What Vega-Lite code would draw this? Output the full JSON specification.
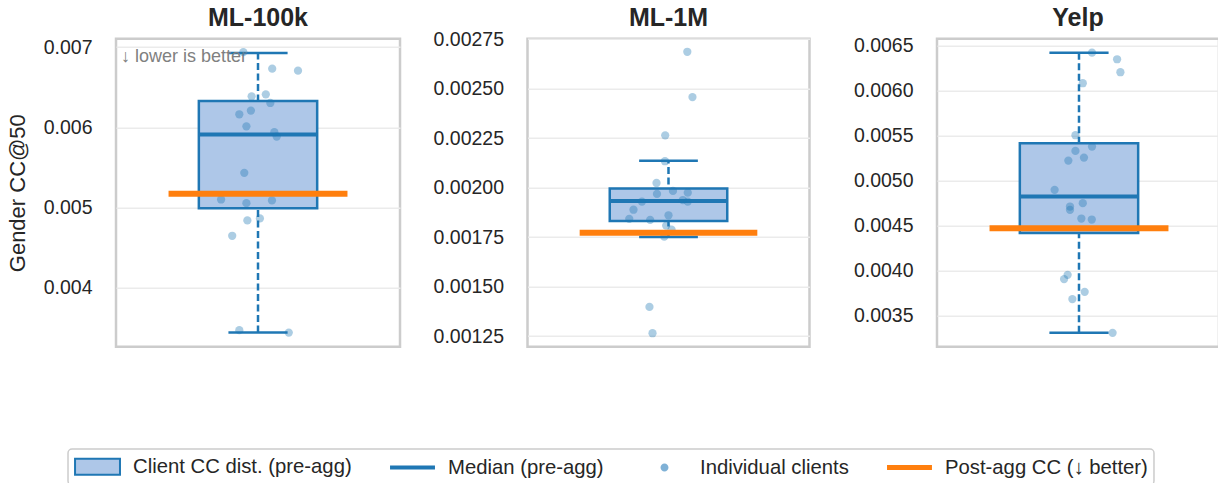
{
  "$schema": "https://vega.github.io/schema/vega-lite/v6.json",
  "padding": {"left": 4, "top": 3.7, "right": 0, "bottom": 0},
  "autosize": {"type": "pad"},
  "spacing": 127.5,
  "bounds": "flush",
  "config": {
    "font": "Liberation Sans",
    "view": {"stroke": "#cccccc", "strokeWidth": 2.5},
    "axis": {"domain": false, "ticks": false, "tickSize": 0, "labelFontSize": 19.5, "labelColor": "#262626", "labelPadding": 24, "gridColor": "#ebebeb", "gridWidth": 1.5, "titleFontSize": 22, "titleFontWeight": "normal", "titleColor": "#262626", "titlePadding": 14},
    "title": {"fontSize": 25, "fontWeight": "bold", "color": "#262626"},
    "legend": {"labelFontSize": 20.3, "labelColor": "#262626", "labelLimit": 0, "symbolSize": 441, "symbolOffset": 12, "symbolStrokeWidth": 2, "symbolOpacity": 1, "strokeColor": "#cccccc", "strokeWidth": 1.5, "cornerRadius": 4, "padding": 6, "columnPadding": 34, "labelOffset": 24, "fillColor": "#ffffff"}
  },
  "datasets": {
    "stats": [
      {"ds": "ML-100k", "q1": 0.00499, "med": 0.005909, "q3": 0.006328, "wlo": 0.003438, "whi": 0.006925, "post": 0.00517},
      {"ds": "ML-1M", "q1": 0.001831, "med": 0.001932, "q3": 0.001995, "wlo": 0.00175, "whi": 0.002135, "post": 0.001772},
      {"ds": "Yelp", "q1": 0.004416, "med": 0.004822, "q3": 0.005414, "wlo": 0.00331, "whi": 0.006418, "post": 0.004471}
    ],
    "points": [
      {"ds": "ML-100k", "v": 0.006938, "j": -0.062},
      {"ds": "ML-100k", "v": 0.006731, "j": 0.060},
      {"ds": "ML-100k", "v": 0.006706, "j": 0.169},
      {"ds": "ML-100k", "v": 0.006386, "j": -0.027},
      {"ds": "ML-100k", "v": 0.006411, "j": 0.033},
      {"ds": "ML-100k", "v": 0.006303, "j": 0.052},
      {"ds": "ML-100k", "v": 0.006162, "j": -0.079},
      {"ds": "ML-100k", "v": 0.006208, "j": -0.030},
      {"ds": "ML-100k", "v": 0.006012, "j": -0.049},
      {"ds": "ML-100k", "v": 0.005938, "j": 0.069},
      {"ds": "ML-100k", "v": 0.005884, "j": 0.079},
      {"ds": "ML-100k", "v": 0.005431, "j": -0.058},
      {"ds": "ML-100k", "v": 0.005099, "j": -0.156},
      {"ds": "ML-100k", "v": 0.005053, "j": -0.049},
      {"ds": "ML-100k", "v": 0.005087, "j": 0.059},
      {"ds": "ML-100k", "v": 0.004838, "j": -0.045},
      {"ds": "ML-100k", "v": 0.004863, "j": 0.008},
      {"ds": "ML-100k", "v": 0.004646, "j": -0.109},
      {"ds": "ML-100k", "v": 0.003468, "j": -0.079},
      {"ds": "ML-100k", "v": 0.003438, "j": 0.130},
      {"ds": "ML-1M", "v": 0.002686, "j": 0.080},
      {"ds": "ML-1M", "v": 0.002457, "j": 0.102},
      {"ds": "ML-1M", "v": 0.002264, "j": -0.014},
      {"ds": "ML-1M", "v": 0.002133, "j": -0.015},
      {"ds": "ML-1M", "v": 0.002023, "j": -0.051},
      {"ds": "ML-1M", "v": 0.001968, "j": -0.049},
      {"ds": "ML-1M", "v": 0.001983, "j": 0.019},
      {"ds": "ML-1M", "v": 0.001974, "j": 0.082},
      {"ds": "ML-1M", "v": 0.001929, "j": -0.113},
      {"ds": "ML-1M", "v": 0.001937, "j": 0.061},
      {"ds": "ML-1M", "v": 0.001929, "j": 0.082},
      {"ds": "ML-1M", "v": 0.001888, "j": -0.149},
      {"ds": "ML-1M", "v": 0.001860, "j": 0.000},
      {"ds": "ML-1M", "v": 0.001842, "j": -0.167},
      {"ds": "ML-1M", "v": 0.001837, "j": -0.078},
      {"ds": "ML-1M", "v": 0.001808, "j": -0.010},
      {"ds": "ML-1M", "v": 0.001787, "j": 0.013},
      {"ds": "ML-1M", "v": 0.001752, "j": -0.018},
      {"ds": "ML-1M", "v": 0.001397, "j": -0.081},
      {"ds": "ML-1M", "v": 0.001264, "j": -0.068},
      {"ds": "Yelp", "v": 0.006418, "j": 0.055},
      {"ds": "Yelp", "v": 0.006345, "j": 0.161},
      {"ds": "Yelp", "v": 0.006201, "j": 0.175},
      {"ds": "Yelp", "v": 0.006079, "j": 0.016},
      {"ds": "Yelp", "v": 0.005502, "j": -0.015},
      {"ds": "Yelp", "v": 0.005376, "j": 0.055},
      {"ds": "Yelp", "v": 0.005328, "j": -0.015},
      {"ds": "Yelp", "v": 0.005221, "j": -0.045},
      {"ds": "Yelp", "v": 0.005254, "j": 0.021},
      {"ds": "Yelp", "v": 0.004896, "j": -0.103},
      {"ds": "Yelp", "v": 0.004748, "j": 0.016},
      {"ds": "Yelp", "v": 0.004711, "j": -0.038},
      {"ds": "Yelp", "v": 0.004674, "j": -0.038},
      {"ds": "Yelp", "v": 0.004578, "j": 0.010},
      {"ds": "Yelp", "v": 0.004567, "j": 0.054},
      {"ds": "Yelp", "v": 0.003953, "j": -0.048},
      {"ds": "Yelp", "v": 0.003906, "j": -0.063},
      {"ds": "Yelp", "v": 0.003765, "j": 0.024},
      {"ds": "Yelp", "v": 0.003684, "j": -0.028},
      {"ds": "Yelp", "v": 0.003310, "j": 0.142}
    ],
    "legend": [
      {"item": "Client CC dist. (pre-agg)"},
      {"item": "Median (pre-agg)"},
      {"item": "Individual clients"},
      {"item": "Post-agg CC (↓ better)"}
    ],
    "note": [{"label": "↓ lower is better"}]
  },
  "hconcat": [
    {
      "width": 284, "height": 308,
      "title": {"text": "ML-100k", "offset": 6.6},
      "layer": [
        {"data": {"name": "stats"}, "transform": [{"filter": "datum.ds === 'ML-100k'"}],
         "mark": {"type": "rule", "color": "#1f77b4", "strokeWidth": 2.5, "strokeDash": [7, 3.5]},
         "encoding": {
           "x": {"datum": 0, "type": "quantitative", "scale": {"domain": [-0.6, 0.6], "nice": false, "zero": false}, "axis": {"values": [0], "labels": false, "title": null, "gridColor": "#d3d3d3", "gridWidth": 2.5}},
           "y": {"field": "wlo", "type": "quantitative", "scale": {"domain": [0.003262, 0.007105], "nice": false, "zero": false}, "axis": {"values": [0.004, 0.005, 0.006, 0.007], "format": ".3f", "title": "Gender CC@50"}},
           "y2": {"field": "whi"}}},
        {"data": {"name": "stats"}, "transform": [{"filter": "datum.ds === 'ML-100k'"}, {"fold": ["wlo", "whi"]}],
         "mark": {"type": "rule", "color": "#1f77b4", "strokeWidth": 2.5},
         "encoding": {
           "x": {"datum": -0.125, "type": "quantitative", "scale": {"domain": [-0.6, 0.6], "nice": false, "zero": false}},
           "x2": {"datum": 0.125},
           "y": {"field": "value", "type": "quantitative", "scale": {"domain": [0.003262, 0.007105], "nice": false, "zero": false}}}},
        {"data": {"name": "stats"}, "transform": [{"filter": "datum.ds === 'ML-100k'"}],
         "mark": {"type": "rect", "fill": "#aec7e8", "stroke": "#1f77b4", "strokeWidth": 2.5},
         "encoding": {
           "x": {"datum": -0.25, "type": "quantitative", "scale": {"domain": [-0.6, 0.6], "nice": false, "zero": false}},
           "x2": {"datum": 0.25},
           "y": {"field": "q1", "type": "quantitative", "scale": {"domain": [0.003262, 0.007105], "nice": false, "zero": false}},
           "y2": {"field": "q3"}}},
        {"data": {"name": "stats"}, "transform": [{"filter": "datum.ds === 'ML-100k'"}],
         "mark": {"type": "rule", "color": "#1f77b4", "strokeWidth": 4},
         "encoding": {
           "x": {"datum": -0.25, "type": "quantitative", "scale": {"domain": [-0.6, 0.6], "nice": false, "zero": false}},
           "x2": {"datum": 0.25},
           "y": {"field": "med", "type": "quantitative", "scale": {"domain": [0.003262, 0.007105], "nice": false, "zero": false}}}},
        {"data": {"name": "note"},
         "mark": {"type": "text", "align": "left", "baseline": "top", "fontSize": 18, "color": "#808080"},
         "encoding": {
           "x": {"datum": -0.579, "type": "quantitative", "scale": {"domain": [-0.6, 0.6], "nice": false, "zero": false}},
           "y": {"datum": 0.00699, "type": "quantitative", "scale": {"domain": [0.003262, 0.007105], "nice": false, "zero": false}},
           "text": {"field": "label"}}},
        {"data": {"name": "points"}, "transform": [{"filter": "datum.ds === 'ML-100k'"}],
         "mark": {"type": "circle", "color": "#1f77b4", "opacity": 0.37, "size": 68},
         "encoding": {
           "x": {"field": "j", "type": "quantitative", "scale": {"domain": [-0.6, 0.6], "nice": false, "zero": false}},
           "y": {"field": "v", "type": "quantitative", "scale": {"domain": [0.003262, 0.007105], "nice": false, "zero": false}}}},
        {"data": {"name": "stats"}, "transform": [{"filter": "datum.ds === 'ML-100k'"}],
         "mark": {"type": "rule", "color": "#ff7f0e", "strokeWidth": 6},
         "encoding": {
           "x": {"datum": -0.378, "type": "quantitative", "scale": {"domain": [-0.6, 0.6], "nice": false, "zero": false}},
           "x2": {"datum": 0.378},
           "y": {"field": "post", "type": "quantitative", "scale": {"domain": [0.003262, 0.007105], "nice": false, "zero": false}}}},
        {"data": {"name": "legend"},
         "mark": {"type": "point", "filled": true, "opacity": 0},
         "encoding": {
           "fill": {"field": "item", "type": "nominal", "scale": {"domain": ["Client CC dist. (pre-agg)", "Median (pre-agg)", "Individual clients", "Post-agg CC (↓ better)"], "range": ["#aec7e8", "#1f77b4", "#7fb1d6", "#ff7f0e"]}, "legend": {"orient": "none", "legendX": -48, "legendY": 410.3, "direction": "horizontal", "columns": 4, "title": null}},
           "stroke": {"field": "item", "type": "nominal", "scale": {"domain": ["Client CC dist. (pre-agg)", "Median (pre-agg)", "Individual clients", "Post-agg CC (↓ better)"], "range": ["#1f77b4", "transparent", "transparent", "transparent"]}, "legend": {"orient": "none", "legendX": -48, "legendY": 410.3, "direction": "horizontal", "columns": 4, "title": null}},
           "shape": {"field": "item", "type": "nominal", "scale": {"domain": ["Client CC dist. (pre-agg)", "Median (pre-agg)", "Individual clients", "Post-agg CC (↓ better)"], "range": ["M-2.14,-0.76H2.14V0.76H-2.14Z", "M-2.14,-0.19H2.14V0.19H-2.14Z", "M-2.14,0H2.14M-0.38,0A0.38,0.38 0 1,0 0.38,0A0.38,0.38 0 1,0 -0.38,0Z", "M-2.14,-0.24H2.14V0.24H-2.14Z"]}, "legend": {"orient": "none", "legendX": -48, "legendY": 410.3, "direction": "horizontal", "columns": 4, "title": null}}}}
      ]
    },
    {
      "width": 282, "height": 308,
      "title": {"text": "ML-1M", "offset": -2.4},
      "layer": [
        {"data": {"name": "stats"}, "transform": [{"filter": "datum.ds === 'ML-1M'"}],
         "mark": {"type": "rule", "color": "#1f77b4", "strokeWidth": 2.5, "strokeDash": [7, 3.5]},
         "encoding": {
           "x": {"datum": 0, "type": "quantitative", "scale": {"domain": [-0.6, 0.6], "nice": false, "zero": false}, "axis": {"values": [0], "labels": false, "title": null, "gridColor": "#d3d3d3", "gridWidth": 2.5}},
           "y": {"field": "wlo", "type": "quantitative", "scale": {"domain": [0.001196, 0.002752], "nice": false, "zero": false}, "axis": {"values": [0.00125, 0.0015, 0.00175, 0.002, 0.00225, 0.0025, 0.00275], "format": ".5f", "title": null}},
           "y2": {"field": "whi"}}},
        {"data": {"name": "stats"}, "transform": [{"filter": "datum.ds === 'ML-1M'"}, {"fold": ["wlo", "whi"]}],
         "mark": {"type": "rule", "color": "#1f77b4", "strokeWidth": 2.5},
         "encoding": {
           "x": {"datum": -0.125, "type": "quantitative", "scale": {"domain": [-0.6, 0.6], "nice": false, "zero": false}},
           "x2": {"datum": 0.125},
           "y": {"field": "value", "type": "quantitative", "scale": {"domain": [0.001196, 0.002752], "nice": false, "zero": false}}}},
        {"data": {"name": "stats"}, "transform": [{"filter": "datum.ds === 'ML-1M'"}],
         "mark": {"type": "rect", "fill": "#aec7e8", "stroke": "#1f77b4", "strokeWidth": 2.5},
         "encoding": {
           "x": {"datum": -0.25, "type": "quantitative", "scale": {"domain": [-0.6, 0.6], "nice": false, "zero": false}},
           "x2": {"datum": 0.25},
           "y": {"field": "q1", "type": "quantitative", "scale": {"domain": [0.001196, 0.002752], "nice": false, "zero": false}},
           "y2": {"field": "q3"}}},
        {"data": {"name": "stats"}, "transform": [{"filter": "datum.ds === 'ML-1M'"}],
         "mark": {"type": "rule", "color": "#1f77b4", "strokeWidth": 4},
         "encoding": {
           "x": {"datum": -0.25, "type": "quantitative", "scale": {"domain": [-0.6, 0.6], "nice": false, "zero": false}},
           "x2": {"datum": 0.25},
           "y": {"field": "med", "type": "quantitative", "scale": {"domain": [0.001196, 0.002752], "nice": false, "zero": false}}}},
        {"data": {"name": "points"}, "transform": [{"filter": "datum.ds === 'ML-1M'"}],
         "mark": {"type": "circle", "color": "#1f77b4", "opacity": 0.37, "size": 68},
         "encoding": {
           "x": {"field": "j", "type": "quantitative", "scale": {"domain": [-0.6, 0.6], "nice": false, "zero": false}},
           "y": {"field": "v", "type": "quantitative", "scale": {"domain": [0.001196, 0.002752], "nice": false, "zero": false}}}},
        {"data": {"name": "stats"}, "transform": [{"filter": "datum.ds === 'ML-1M'"}],
         "mark": {"type": "rule", "color": "#ff7f0e", "strokeWidth": 6},
         "encoding": {
           "x": {"datum": -0.378, "type": "quantitative", "scale": {"domain": [-0.6, 0.6], "nice": false, "zero": false}},
           "x2": {"datum": 0.378},
           "y": {"field": "post", "type": "quantitative", "scale": {"domain": [0.001196, 0.002752], "nice": false, "zero": false}}}}
      ]
    },
    {
      "width": 282, "height": 308,
      "title": {"text": "Yelp", "offset": 4.6},
      "layer": [
        {"data": {"name": "stats"}, "transform": [{"filter": "datum.ds === 'Yelp'"}],
         "mark": {"type": "rule", "color": "#1f77b4", "strokeWidth": 2.5, "strokeDash": [7, 3.5]},
         "encoding": {
           "x": {"datum": 0, "type": "quantitative", "scale": {"domain": [-0.6, 0.5915], "nice": false, "zero": false}, "axis": {"values": [0], "labels": false, "title": null, "gridColor": "#d3d3d3", "gridWidth": 2.5}},
           "y": {"field": "wlo", "type": "quantitative", "scale": {"domain": [0.003156, 0.006573], "nice": false, "zero": false}, "axis": {"values": [0.0035, 0.004, 0.0045, 0.005, 0.0055, 0.006, 0.0065], "format": ".4f", "title": null}},
           "y2": {"field": "whi"}}},
        {"data": {"name": "stats"}, "transform": [{"filter": "datum.ds === 'Yelp'"}, {"fold": ["wlo", "whi"]}],
         "mark": {"type": "rule", "color": "#1f77b4", "strokeWidth": 2.5},
         "encoding": {
           "x": {"datum": -0.125, "type": "quantitative", "scale": {"domain": [-0.6, 0.5915], "nice": false, "zero": false}},
           "x2": {"datum": 0.125},
           "y": {"field": "value", "type": "quantitative", "scale": {"domain": [0.003156, 0.006573], "nice": false, "zero": false}}}},
        {"data": {"name": "stats"}, "transform": [{"filter": "datum.ds === 'Yelp'"}],
         "mark": {"type": "rect", "fill": "#aec7e8", "stroke": "#1f77b4", "strokeWidth": 2.5},
         "encoding": {
           "x": {"datum": -0.25, "type": "quantitative", "scale": {"domain": [-0.6, 0.5915], "nice": false, "zero": false}},
           "x2": {"datum": 0.25},
           "y": {"field": "q1", "type": "quantitative", "scale": {"domain": [0.003156, 0.006573], "nice": false, "zero": false}},
           "y2": {"field": "q3"}}},
        {"data": {"name": "stats"}, "transform": [{"filter": "datum.ds === 'Yelp'"}],
         "mark": {"type": "rule", "color": "#1f77b4", "strokeWidth": 4},
         "encoding": {
           "x": {"datum": -0.25, "type": "quantitative", "scale": {"domain": [-0.6, 0.5915], "nice": false, "zero": false}},
           "x2": {"datum": 0.25},
           "y": {"field": "med", "type": "quantitative", "scale": {"domain": [0.003156, 0.006573], "nice": false, "zero": false}}}},
        {"data": {"name": "points"}, "transform": [{"filter": "datum.ds === 'Yelp'"}],
         "mark": {"type": "circle", "color": "#1f77b4", "opacity": 0.37, "size": 68},
         "encoding": {
           "x": {"field": "j", "type": "quantitative", "scale": {"domain": [-0.6, 0.5915], "nice": false, "zero": false}},
           "y": {"field": "v", "type": "quantitative", "scale": {"domain": [0.003156, 0.006573], "nice": false, "zero": false}}}},
        {"data": {"name": "stats"}, "transform": [{"filter": "datum.ds === 'Yelp'"}],
         "mark": {"type": "rule", "color": "#ff7f0e", "strokeWidth": 6},
         "encoding": {
           "x": {"datum": -0.378, "type": "quantitative", "scale": {"domain": [-0.6, 0.5915], "nice": false, "zero": false}},
           "x2": {"datum": 0.378},
           "y": {"field": "post", "type": "quantitative", "scale": {"domain": [0.003156, 0.006573], "nice": false, "zero": false}}}}
      ]
    }
  ]
}
